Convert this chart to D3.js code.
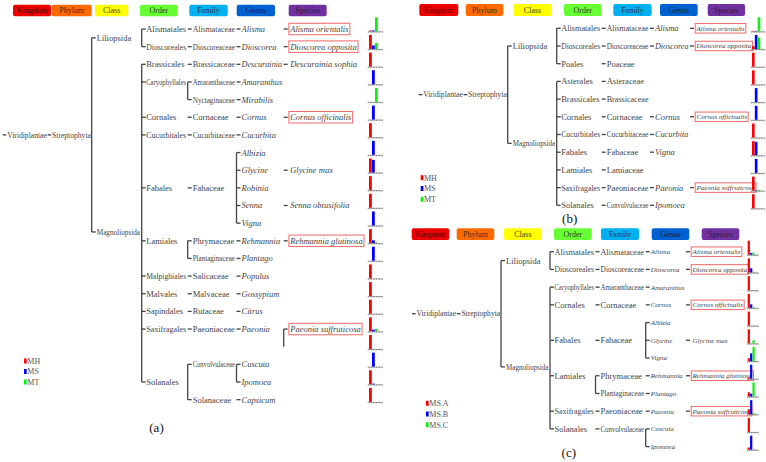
<!DOCTYPE html>
<html><head><meta charset="utf-8">
<script src="https://cdn.jsdelivr.net/npm/d3@7"></script>
<style>body{margin:0;background:#fff}svg{display:block}text{font-family:"Liberation Serif","Times New Roman",serif}</style>
</head><body><svg id="c" width="766" height="462"></svg>
<script>
// ---------- DATA ----------
const levelNames = ["Kingdom","Phylum","Class","Order","Family","Genus","Species"];
const kingdomName = "Viridiplantae";
const phylumName = "Streptophyta";
const highlighted = ["Alisma orientalis","Dioscorea opposita","Cornus officinalis","Rehmannia glutinosa","Paeonia suffruticosa"];

// rows: class, order, family, genus, species
const aTaxa = [
 ["Liliopsida","Alismatales","Alismataceae","Alisma","Alisma orientalis"],
 ["Liliopsida","Dioscoreales","Dioscoreaceae","Dioscorea","Dioscorea opposita"],
 ["Magnoliopsida","Brassicales","Brassicaceae","Descurainia","Descurainia sophia"],
 ["Magnoliopsida","Caryophyllales","Amaranthaceae","Amaranthus",""],
 ["Magnoliopsida","Caryophyllales","Nyctaginaceae","Mirabilis",""],
 ["Magnoliopsida","Cornales","Cornaceae","Cornus","Cornus officinalis"],
 ["Magnoliopsida","Cucurbitales","Cucurbitaceae","Cucurbita",""],
 ["Magnoliopsida","Fabales","Fabaceae","Albizia",""],
 ["Magnoliopsida","Fabales","Fabaceae","Glycine","Glycine max"],
 ["Magnoliopsida","Fabales","Fabaceae","Robinia",""],
 ["Magnoliopsida","Fabales","Fabaceae","Senna","Senna obtusifolia"],
 ["Magnoliopsida","Fabales","Fabaceae","Vigna",""],
 ["Magnoliopsida","Lamiales","Phrymaceae","Rehmannia","Rehmannia glutinosa"],
 ["Magnoliopsida","Lamiales","Plantaginaceae","Plantago",""],
 ["Magnoliopsida","Malpighiales","Salicaceae","Populus",""],
 ["Magnoliopsida","Malvales","Malvaceae","Gossypium",""],
 ["Magnoliopsida","Sapindales","Rutaceae","Citrus",""],
 ["Magnoliopsida","Saxifragales","Paeoniaceae","Paeonia","Paeonia suffruticosa"],
 ["Magnoliopsida","Saxifragales","Paeoniaceae","Paeonia","Paeonia suffruticosa"],
 ["Magnoliopsida","Solanales","Convolvulaceae","Cuscuta",""],
 ["Magnoliopsida","Solanales","Convolvulaceae","Ipomoea",""],
 ["Magnoliopsida","Solanales","Solanaceae","Capsicum",""]
];
const aSeries = ["MH","MS","MT"];
const aMH = [0.06,1,1,0,0,0,1,0,1,1,1,0,1,0,1,1,1,1,1,0,1,1];
const aMS = [0.06,0.25,0,1,0,1,0,1,0.9,0,0,1,0.2,1,0,0,0,0.12,0,1,0.05,0];
const aMT = [1,0.42,0,0,1,0,0,0,0,0,0,0,0.05,0,0,0,0,0.18,0,0,0,0];

const bTaxa = [
 ["Liliopsida","Alismatales","Alismataceae","Alisma","Alisma orientalis"],
 ["Liliopsida","Dioscoreales","Dioscoreaceae","Dioscorea","Dioscorea opposita"],
 ["Liliopsida","Poales","Poaceae","",""],
 ["Magnoliopsida","Asterales","Asteraceae","",""],
 ["Magnoliopsida","Brassicales","Brassicaceae","",""],
 ["Magnoliopsida","Cornales","Cornaceae","Cornus","Cornus officinalis"],
 ["Magnoliopsida","Cucurbitales","Cucurbitaceae","Cucurbita",""],
 ["Magnoliopsida","Fabales","Fabaceae","Vigna",""],
 ["Magnoliopsida","Lamiales","Lamiaceae","",""],
 ["Magnoliopsida","Saxifragales","Paeoniaceae","Paeonia","Paeonia suffruticosa"],
 ["Magnoliopsida","Solanales","Convolvulaceae","Ipomoea",""]
];
const bSeries = ["MH","MS","MT"];
const bMH = [0.03,0.2,1,1,0,0,1,1,0,1,1];
const bMS = [0.03,1,0,0,1,1,0,0.95,1,0.03,0];
const bMT = [1,0.82,0,0,0,0,0,0,0,0.06,0];

const cTaxa = [
 ["Liliopsida","Alismatales","Alismataceae","Alisma","Alisma orientalis"],
 ["Liliopsida","Dioscoreales","Dioscoreaceae","Dioscorea","Dioscorea opposita"],
 ["Magnoliopsida","Caryophyllales","Amaranthaceae","Amaranthus",""],
 ["Magnoliopsida","Cornales","Cornaceae","Cornus","Cornus officinalis"],
 ["Magnoliopsida","Fabales","Fabaceae","Albizia",""],
 ["Magnoliopsida","Fabales","Fabaceae","Glycine","Glycine max"],
 ["Magnoliopsida","Fabales","Fabaceae","Vigna",""],
 ["Magnoliopsida","Lamiales","Phrymaceae","Rehmannia","Rehmannia glutinosa"],
 ["Magnoliopsida","Lamiales","Plantaginaceae","Plantago",""],
 ["Magnoliopsida","Saxifragales","Paeoniaceae","Paeonia","Paeonia suffruticosa"],
 ["Magnoliopsida","Solanales","Convolvulaceae","Cuscuta",""],
 ["Magnoliopsida","Solanales","Convolvulaceae","Ipomoea",""]
];
const cSeries = ["MS.A","MS.B","MS.C"];
const cMSA = [1,1,1,1,1,1,0.2,0.08,0.3,0.35,1,0.15];
const cMSB = [0.12,0.3,0,0.25,0,0,0.55,1,0.2,1,0,1];
const cMSC = [0.14,0.05,0,0.05,0,0.22,1,0,1,0.08,0,0];

// ---------- STYLE / LAYOUT ----------
const levelColors = ["#ee0000","#ff6a00","#ffff00","#66ff33","#00b0f0","#0062d0","#7030a0"];
const levelTextColors = ["#550000","#3a2a1a","#444422","#2a3a2a","#2a3a4a","#1a2040","#2a2035"];
const seriesColors = ["#ff0000","#0000ff","#11ee11"];
const lineColor = "#444", textColor = "#454545";

const svg = d3.select("#c");

function drawPanel(cfg){
  const g = svg.append("g").attr("transform",`translate(${cfg.left},0)`);
  const yRow = d3.scaleLinear().domain([0,1]).range([cfg.top, cfg.top+cfg.step]);
  const cols = [null,null,cfg.cls,cfg.ord,cfg.fam,cfg.gen,cfg.sp];
  const off = [0,0,5,4.5,5,5,6.5];

  // level legend boxes
  const lg = g.append("g");
  levelNames.forEach((nm,i)=>{
    lg.append("rect").attr("x",cfg.boxX[i]).attr("y",cfg.boxY).attr("width",cfg.boxW[i]).attr("height",cfg.boxH)
      .attr("rx",2).attr("fill",levelColors[i]);
    lg.append("text").attr("x",cfg.boxX[i]+cfg.boxW[i]/2).attr("y",cfg.boxY+cfg.boxH/2).attr("dy","0.35em")
      .attr("text-anchor","middle").attr("font-size",8).attr("fill",levelTextColors[i]).text(nm);
  });

  // build tree
  const root = {name:kingdomName, level:0, children:[], rows:[]};
  const phy = {name:phylumName, level:1, children:[], rows:[]};
  root.children.push(phy);
  cfg.rows.forEach((path,i)=>{
    root.rows.push(i); phy.rows.push(i);
    let node = phy;
    for(let L=0; L<path.length; L++){
      const name = path[L]; if(!name) break;
      let last = node.children[node.children.length-1];
      if(!last || last.name!==name){ last = {name, level:L+2, children:[], rows:[]}; node.children.push(last); }
      last.rows.push(i); node = last;
    }
  });
  (function setR(n){
    n.children.forEach(setR);
    if(!n.children.length) n.r = Math.floor((d3.min(n.rows)+d3.max(n.rows))/2);
    else if(n.level===2) n.r = (d3.min(n.rows)+d3.max(n.rows))/2;
    else {
      const a = n.children[0].r, b = n.children[n.children.length-1].r;
      n.r = n.level<2 ? (a+b)/2 : Math.floor((a+b)/2);
    }
  })(root);

  const lines = g.append("g").attr("stroke",lineColor).attr("stroke-width",1.3).attr("fill","none");
  const seg = (x1,y1,x2,y2)=>lines.append("line").attr("x1",x1).attr("y1",y1).attr("x2",x2).attr("y2",y2);
  (function drawLines(n){
    if(n.level>=1 && n.children.length){
      const cx = cols[n.level+1];
      const ys = n.children.map(c=>yRow(c.r));
      if(ys.length>1) seg(cx, ys[0], cx, ys[ys.length-1]);
      ys.forEach(y=>seg(cx, y, cx+4, y));
    }
    if(n.level===6 && n.rows.length>1) seg(cols[6], yRow(d3.min(n.rows)), cols[6], yRow(d3.max(n.rows)));
    n.children.forEach(drawLines);
  })(root);

  const tg = g.append("g").attr("fill",textColor);
  function addText(x,y,str,fs,italic,maxW,anchor){
    const t = tg.append("text").attr("x",0).attr("y",0).attr("dy","0.35em").attr("font-size",fs)
      .attr("font-style",italic?"italic":"normal").attr("text-anchor",anchor||"start").text(str);
    let w = t.node().getComputedTextLength();
    let k = 1;
    if(maxW && w>maxW){ k = maxW/w; w = maxW; }
    t.attr("transform",`translate(${x},${y})`+(k<1?` scale(${k},1)`:""));
    return w;
  }
  // kingdom + phylum
  const py = yRow(phy.r);
  const sEnd = cols[2]-0.8;
  const w1 = addText(sEnd, py, phylumName, cfg.fsK, false, null, "end");
  const sStart = sEnd - w1;
  seg(sStart-4.5, py, sStart-0.8, py);
  const vEnd = sStart-5.3;
  const w0 = addText(vEnd, py, kingdomName, cfg.fsK, false, null, "end");
  seg(vEnd-w0-4.5, py, vEnd-w0-0.8, py);

  (function labels(n){
    if(n.level>=2){
      const x = cols[n.level]+off[n.level], y = yRow(n.r);
      const maxW = n.level<6 ? cols[n.level+1]-x-1.5 : null;
      const w = addText(x, y, n.name, cfg.fs[n.level], n.level>=5, maxW);
      if(n.level===6 && highlighted.includes(n.name)){
        g.append("rect").attr("x",x-1.3).attr("y",y-cfg.hbH/2).attr("width",w+2.6).attr("height",cfg.hbH)
          .attr("fill","none").attr("stroke","#f06868").attr("stroke-width",1);
      }
    }
    n.children.forEach(labels);
  })(root);

  // mini bar charts
  const bg = g.append("g");
  const xb = d3.scaleBand().domain(cfg.series).range([cfg.b0,cfg.b1]).paddingInner(0.06);
  const xa = d3.scaleLinear().domain([0,5]).range([cfg.ax0,cfg.ax1]);
  cfg.rows.forEach((row,i)=>{
    const base = yRow(i)+cfg.baseOff;
    const y = d3.scaleLinear().domain([0,1]).range([base, base-cfg.barH]);
    const ag = bg.append("g").attr("transform",`translate(0,${base})`)
      .call(d3.axisBottom(xa).ticks(5).tickSize(1.5).tickSizeOuter(0).tickFormat(""));
    ag.selectAll("path,line").attr("stroke","#777").attr("stroke-width",0.7);
    bg.append("g").selectAll("rect").data(cfg.series).join("rect")
      .attr("x",s=>xb(s)).attr("width",xb.bandwidth())
      .attr("y",(s,k)=>y(cfg.values[k][i])).attr("height",(s,k)=>base-y(cfg.values[k][i]))
      .attr("fill",(s,k)=>seriesColors[k]);
  });

  // series legend
  cfg.series.forEach((s,k)=>{
    const yy = cfg.legY+k*cfg.legDy;
    g.append("rect").attr("x",cfg.legX).attr("y",yy-2.5).attr("width",2.7).attr("height",5).attr("fill",seriesColors[k]);
    g.append("text").attr("x",cfg.legX+3.3).attr("y",yy).attr("dy","0.35em").attr("font-size",8).attr("fill","#555").text(s);
  });

  // caption
  g.append("text").attr("x",cfg.capX).attr("y",cfg.capY).attr("text-anchor","middle").attr("font-size",13).attr("fill","#111").text(cfg.caption);
}

drawPanel({left:0, top:29, step:17.65, rows:aTaxa, series:aSeries, values:[aMH,aMS,aMT],
  cls:91.7, ord:141.7, fam:187.7, gen:236.5, sp:283.7, fsK:7.6,
  fs:[0,0,8.5,8.5,8.5,8.5,8.5], hbH:11.5,
  boxX:[13,51.7,95,140,189.3,236.7,288.7], boxW:[38,40,33.3,37.7,38.4,38.3,38], boxY:4.7, boxH:11.6,
  b0:369, b1:377.8, ax0:367.7, ax1:382, baseOff:2.3, barH:14,
  legX:24, legY:361, legDy:10.5, capX:156.5, capY:432, caption:"(a)"});

drawPanel({left:380, top:28.3, step:17.7, rows:bTaxa, series:bSeries, values:[bMH,bMS,bMT],
  cls:127.7, ord:176.7, fam:221.7, gen:270, sp:310, fsK:7.6,
  fs:[0,0,8.5,8.5,8.5,8.5,7], hbH:9.5,
  boxX:[39.3,85.7,133.3,184,233.3,280,327.7], boxW:[39,37.6,38.4,37.7,38.4,37.7,37.3], boxY:4, boxH:12,
  b0:372, b1:380.3, ax0:370.7, ax1:384, baseOff:3, barH:14,
  legX:40.7, legY:177.7, legDy:10.8, capX:189.7, capY:222.5, caption:"(b)"});

drawPanel({left:380, top:251.7, step:17.72, rows:cTaxa, series:cSeries, values:[cMSA,cMSB,cMSC],
  cls:121, ord:170, fam:215.5, gen:265.7, sp:306, fsK:7.6,
  fs:[0,0,8.5,8.5,8.5,7,7], hbH:9.5,
  boxX:[31.7,76.7,124,174,221,271.7,321.7], boxW:[37.6,37.6,37.7,37.7,38,37.6,37.6], boxY:228.3, boxH:11.7,
  b0:367.7, b1:374.7, ax0:367, ax1:377.7, baseOff:3, barH:14,
  legX:46, legY:403.3, legDy:10.7, capX:188.8, capY:456.5, caption:"(c)"});
</script></body></html>
